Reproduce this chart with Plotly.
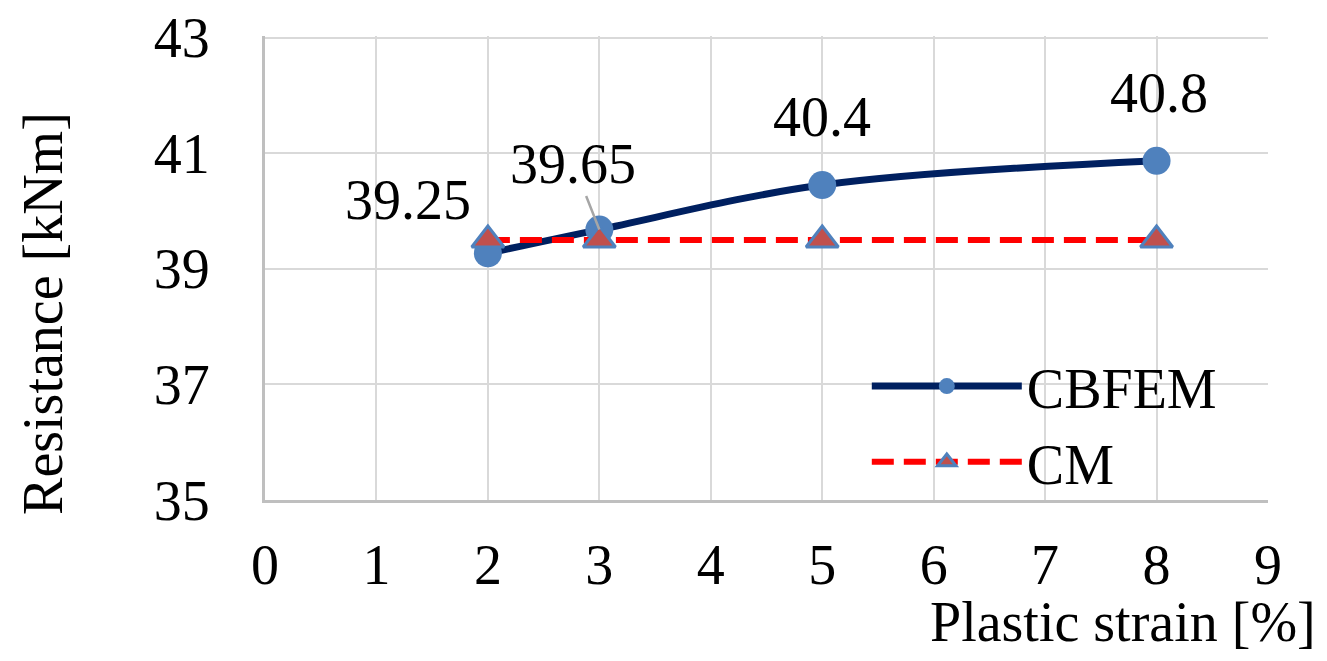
import plotly.graph_objects as go

# values
strain = [2, 3, 5, 8]
cbfem = [39.27, 39.68, 40.45, 40.87]
cbfem_labels = ["39.25", "39.65", "40.4", "40.8"]
cm = [39.5, 39.5, 39.5, 39.5]

x_ticks = [0, 1, 2, 3, 4, 5, 6, 7, 8, 9]
y_ticks = [35, 37, 39, 41, 43]

font_name = "Liberation Serif, Times New Roman, serif"
fsize = 56

fig = go.Figure()

fig.add_trace(go.Scatter(
    x=strain, y=cbfem, name="CBFEM", mode="lines+markers",
    line=dict(color="#002060", width=7, shape="spline"),
    marker=dict(symbol="circle", size=28, color="#4F81BD"),
))
fig.add_trace(go.Scatter(
    x=strain, y=cm, name="CM", mode="lines+markers",
    line=dict(color="#FF0000", width=6, dash="22px,10px"),
    marker=dict(symbol="triangle-up", size=28, color="#C0504D",
                line=dict(color="#4F81BD", width=3)),
))

# data labels for CBFEM (offsets in pixels)
label_dx = [-80, -26, 0, 2]
label_dy = [53, 66, 68, 68]
for i, (xv, yv, txt) in enumerate(zip(strain, cbfem, cbfem_labels)):
    if i == 1:
        # this one has a leader line
        fig.add_annotation(x=xv, y=yv, text=txt, showarrow=True, arrowhead=0,
                           arrowwidth=2.5, arrowcolor="#A6A6A6",
                           ax=label_dx[i], ay=-label_dy[i], standoff=0,
                           font=dict(family=font_name, size=fsize, color="black"))
    else:
        fig.add_annotation(x=xv, y=yv, text=txt, showarrow=False,
                           xshift=label_dx[i], yshift=label_dy[i],
                           font=dict(family=font_name, size=fsize, color="black"))

# axis titles
fig.add_annotation(xref="paper", yref="paper", x=1.05, y=-0.262,
                   xanchor="right", yanchor="middle", showarrow=False,
                   text="Plastic strain [%]",
                   font=dict(family=font_name, size=fsize, color="black"))
fig.add_annotation(xref="paper", yref="paper", x=-0.2213, y=0.401,
                   xanchor="center", yanchor="middle", showarrow=False,
                   textangle=-90, text="Resistance [kNm]",
                   font=dict(family=font_name, size=fsize, color="black"))

# page body adds ~8px around the figure, so size it a bit smaller
fig.update_layout(
    width=1319, height=653,
    margin=dict(l=257, r=59, t=28, b=161, autoexpand=False),
    paper_bgcolor="white", plot_bgcolor="white",
    font=dict(family=font_name, size=fsize, color="black"),
    showlegend=True,
    legend=dict(x=0.60, y=0.338, xanchor="left", yanchor="top",
                bgcolor="rgba(0,0,0,0)", itemwidth=150,
                font=dict(family=font_name, size=fsize, color="black")),
    xaxis=dict(range=[0, 9], tickvals=x_ticks, showgrid=True,
               gridcolor="#D9D9D9", gridwidth=2, showline=True,
               linecolor="#BFBFBF", linewidth=3, zeroline=False,
               automargin=False, ticklabeloverflow="allow",
               ticks="outside", ticklen=14, tickcolor="rgba(0,0,0,0)"),
    yaxis=dict(range=[35, 43.03], tickvals=y_ticks, showgrid=True,
               gridcolor="#D9D9D9", gridwidth=2, showline=True,
               linecolor="#BFBFBF", linewidth=3, zeroline=False,
               automargin=False, ticklabeloverflow="allow",
               ticks="outside", ticklen=41, tickcolor="rgba(0,0,0,0)"),
)

fig.write_html("out.html")
